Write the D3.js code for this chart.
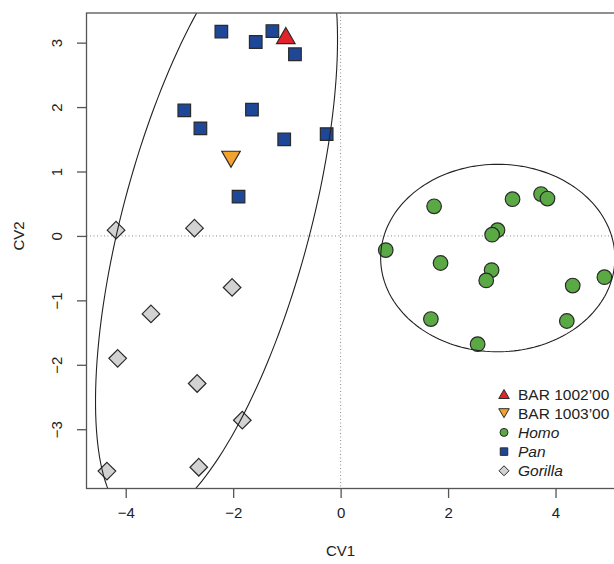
<!DOCTYPE html>
<html>
<head>
<meta charset="utf-8">
<script src="https://cdn.jsdelivr.net/npm/d3@7"></script>
<style>
  body { margin: 0; background: #fff; }
  text { font-family: "Liberation Sans", Arial, Helvetica, sans-serif; fill: #222; }
</style>
</head>
<body>
<div id="scatter"></div>
<script>
// Data (CV1, CV2)
var homoCV1 = [1.74, 3.20, 3.73, 3.85, 2.92, 2.82, 0.84, 1.86, 2.81, 2.71, 4.91, 4.32, 1.68, 4.21, 2.55];
var homoCV2 = [0.46, 0.57, 0.65, 0.58, 0.09, 0.02, -0.22, -0.42, -0.53, -0.69, -0.64, -0.77, -1.29, -1.32, -1.68];

var panCV1 = [-2.22, -1.27, -1.58, -0.85, -2.91, -1.65, -2.61, -1.05, -0.26, -1.90];
var panCV2 = [3.17, 3.18, 3.01, 2.82, 1.95, 1.96, 1.67, 1.50, 1.58, 0.61];

var gorillaCV1 = [-4.18, -2.72, -2.02, -3.53, -4.15, -2.67, -1.83, -4.35, -2.64];
var gorillaCV2 = [0.09, 0.12, -0.80, -1.21, -1.90, -2.29, -2.86, -3.65, -3.59];

var barNames = ["BAR 1002\u201900", "BAR 1003\u201900"];
var barCV1 = [-1.02, -2.04];
var barCV2 = [3.11, 1.19];

var xTicks = [-4, -2, 0, 2, 4];
var yTicks = [-3, -2, -1, 0, 1, 2, 3];

// ellipses: centre, two conjugate semi-diameters (data units)
var ellipseLeft = { cx: -2.31, cy: 0.24, ux: 1.80, uy: 0, vx: 1.354, vy: 4.67 };
var ellipseRight = { cx: 2.925, cy: -0.343, ux: 2.18, uy: 0, vx: 0, vy: 1.455 };

var legendLabels = [barNames[0], barNames[1], "Homo", "Pan", "Gorilla"];

// Set up chart
var svgWidth = 614;
var svgHeight = 564;

var margin = { top: 13, right: -6, bottom: 75.5, left: 86.5 };
var width = svgWidth - margin.left - margin.right;
var height = svgHeight - margin.top - margin.bottom;

var svg = d3.select("#scatter")
  .append("svg")
  .attr("width", svgWidth)
  .attr("height", svgHeight);

var chartGroup = svg.append("g")
  .attr("transform", `translate(${margin.left}, ${margin.top})`);

var xScale = d3.scaleLinear().domain([-4.73, 5.2]).range([0, width]);
var yScale = d3.scaleLinear().domain([-3.92, 3.46]).range([height, 0]);

var colors = { homo: "#5aa945", pan: "#1f4797", gorilla: "#d2d2d2", bar1: "#e2232a", bar2: "#f2a22f" };
var edge = "#2a2a2a";

svg.append("defs").append("clipPath").attr("id", "plotClip")
  .append("rect").attr("width", width).attr("height", height);

// reference lines at zero
chartGroup.append("line")
  .attr("x1", xScale(0)).attr("x2", xScale(0))
  .attr("y1", 0).attr("y2", height)
  .attr("stroke", "#888").attr("stroke-dasharray", "1,2.5");
chartGroup.append("line")
  .attr("x1", 0).attr("x2", width)
  .attr("y1", yScale(0)).attr("y2", yScale(0))
  .attr("stroke", "#888").attr("stroke-dasharray", "1,2.5");

// shape helpers
function squarePath(s) {
  var h = s / 2;
  return `M${-h},${-h}H${h}V${h}H${-h}Z`;
}
function diamondPath(r) {
  return `M0,${-r}L${r},0L0,${r}L${-r},0Z`;
}
function triUp(w, h) {
  return `M0,${-h / 2}L${w / 2},${h / 2}L${-w / 2},${h / 2}Z`;
}
function triDown(w, h) {
  return `M0,${h / 2}L${w / 2},${-h / 2}L${-w / 2},${-h / 2}Z`;
}

var homoData = homoCV1.map((d, i) => ({ x: d, y: homoCV2[i] }));
var panData = panCV1.map((d, i) => ({ x: d, y: panCV2[i] }));
var gorillaData = gorillaCV1.map((d, i) => ({ x: d, y: gorillaCV2[i] }));
var barData = barCV1.map((d, i) => ({ x: d, y: barCV2[i], name: barNames[i] }));

var pointsGroup = chartGroup.append("g").attr("clip-path", "url(#plotClip)");

pointsGroup.selectAll(".homo")
  .data(homoData)
  .enter()
  .append("circle")
  .attr("class", "homo")
  .attr("cx", d => xScale(d.x))
  .attr("cy", d => yScale(d.y))
  .attr("r", 7.3)
  .attr("fill", colors.homo)
  .attr("stroke", edge)
  .attr("stroke-width", 1.2);

pointsGroup.selectAll(".gorilla")
  .data(gorillaData)
  .enter()
  .append("path")
  .attr("class", "gorilla")
  .attr("transform", d => `translate(${xScale(d.x)}, ${yScale(d.y)})`)
  .attr("d", diamondPath(8.8))
  .attr("fill", colors.gorilla)
  .attr("stroke", edge)
  .attr("stroke-width", 1.2);

pointsGroup.selectAll(".pan")
  .data(panData)
  .enter()
  .append("path")
  .attr("class", "pan")
  .attr("transform", d => `translate(${xScale(d.x)}, ${yScale(d.y)})`)
  .attr("d", squarePath(12.6))
  .attr("fill", colors.pan)
  .attr("stroke", edge)
  .attr("stroke-width", 1.2);

pointsGroup.selectAll(".bar")
  .data(barData)
  .enter()
  .append("path")
  .attr("class", "bar")
  .attr("transform", d => `translate(${xScale(d.x)}, ${yScale(d.y)})`)
  .attr("d", (d, i) => i === 0 ? triUp(18.5, 16) : triDown(18.5, 16))
  .attr("fill", (d, i) => i === 0 ? colors.bar1 : colors.bar2)
  .attr("stroke", edge)
  .attr("stroke-width", 1.2);

// ellipses
function ellipsePoints(e) {
  return d3.range(0, 361, 2).map(function(a) {
    var t = a * Math.PI / 180;
    return [e.cx + e.ux * Math.cos(t) + e.vx * Math.sin(t), e.cy + e.uy * Math.cos(t) + e.vy * Math.sin(t)];
  });
}
var ellipseLine = d3.line().x(d => xScale(d[0])).y(d => yScale(d[1]));

pointsGroup.selectAll(".ellipse")
  .data([ellipseLeft, ellipseRight])
  .enter()
  .append("path")
  .attr("class", "ellipse")
  .attr("d", d => ellipseLine(ellipsePoints(d)))
  .attr("fill", "none")
  .attr("stroke", "#222")
  .attr("stroke-width", 1.1);

// frame
chartGroup.append("rect")
  .attr("width", width)
  .attr("height", height)
  .attr("fill", "none")
  .attr("stroke", "#555")
  .attr("stroke-width", 1.3);

// axes
var bottomAxis = d3.axisBottom(xScale).tickValues(xTicks).tickSize(9.5).tickPadding(9)
  .tickFormat(d => d3.format("")(d).replace("-", "\u2212"));
var leftAxis = d3.axisLeft(yScale).tickValues(yTicks).tickSize(9.5).tickPadding(9)
  .tickFormat(d => d3.format("")(d).replace("-", "\u2212"));

var xAxisG = chartGroup.append("g").attr("transform", `translate(0, ${height})`).call(bottomAxis);
var yAxisG = chartGroup.append("g").call(leftAxis);

[xAxisG, yAxisG].forEach(function(g) {
  g.select(".domain").remove();
  g.selectAll("line").attr("stroke", "#555").attr("stroke-width", 1.3);
  g.selectAll("text")
    .attr("font-family", "Liberation Sans, Arial, sans-serif")
    .attr("font-size", 15)
    .attr("fill", "#222");
});

// rotate the y tick labels like base R
yAxisG.selectAll(".tick text")
  .attr("x", null)
  .attr("text-anchor", "middle")
  .attr("transform", "translate(-21.5, 0) rotate(-90)")
  .attr("dy", "-0.2em");

// axis titles
chartGroup.append("text")
  .attr("transform", `translate(${xScale(0)}, ${height + 67})`)
  .attr("text-anchor", "middle")
  .attr("font-size", 15)
  .text("CV1");

chartGroup.append("text")
  .attr("transform", `translate(${-62.5}, ${yScale(0)}) rotate(-90)`)
  .attr("text-anchor", "middle")
  .attr("font-size", 15)
  .text("CV2");

// legend
var legendGroup = svg.append("g").attr("transform", "translate(504, 394)");
var legendRow = 19.2;

var legendItems = legendGroup.selectAll(".legend-item")
  .data(legendLabels)
  .enter()
  .append("g")
  .attr("class", "legend-item")
  .attr("transform", (d, i) => `translate(0, ${i * legendRow})`);

legendItems.append("path")
  .attr("d", function(d, i) {
    if (i === 0) return triUp(10.5, 9);
    if (i === 1) return triDown(10.5, 9);
    if (i === 2) return d3.symbol().type(d3.symbolCircle).size(Math.PI * 16)();
    if (i === 3) return squarePath(7.5);
    return diamondPath(5);
  })
  .attr("fill", (d, i) => [colors.bar1, colors.bar2, colors.homo, colors.pan, colors.gorilla][i])
  .attr("stroke", edge)
  .attr("stroke-width", 1);

legendItems.append("text")
  .attr("x", 14)
  .attr("dy", "0.36em")
  .attr("font-size", 15.5)
  .attr("font-style", (d, i) => i > 1 ? "italic" : "normal")
  .text(d => d);
</script>
</body>
</html>
